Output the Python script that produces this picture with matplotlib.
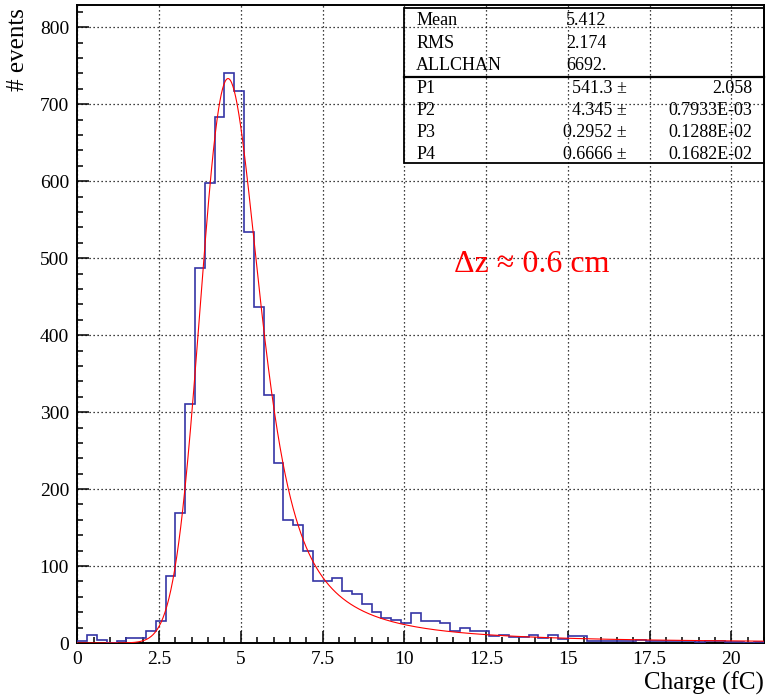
import numpy as np
import matplotlib
matplotlib.use("Agg")
import matplotlib.pyplot as plt
from matplotlib.patches import Rectangle
from matplotlib.ticker import MultipleLocator

plt.rcParams['font.family'] = ['Liberation Serif', 'DejaVu Serif']

# histogram: 70 bins of 0.3 fC from 0 to 21
bin_lo, bin_hi, n_bins = 0.0, 21.0, 70
counts = [2, 11, 4, 0, 3, 7, 7, 16, 29, 87,
          169, 310, 487, 598, 683, 741, 717, 534, 436, 322,
          234, 160, 153, 119, 81, 81, 85, 68, 64, 51,
          40, 32, 30, 26, 39, 28, 28, 26, 16, 20,
          16, 15, 9, 11, 8, 8, 10, 7, 11, 5,
          9, 9, 2, 2, 3, 3, 2, 4, 3, 2,
          3, 2, 2, 1, 2, 2, 1, 1, 0, 1]

# fit parameters shown in the stats box
P1, P2, P3, P4 = 541.3, 4.345, 0.2952, 0.6666
stat_names = ["Mean", "RMS", "ALLCHAN"]
stat_values = ["5.412", "2.174", "6692."]
par_names = ["P1", "P2", "P3", "P4"]
par_values = ["541.3", "4.345", "0.2952", "0.6666"]
par_errors = ["2.058", "0.7933E-03", "0.1288E-02", "0.1682E-02"]
n_entries = 6692


def denlan(v):
    # CERNLIB DENLAN rational approximation of the Landau density
    p1 = [0.4259894875, -0.1249762550, 0.03984243700, -0.006298287635, 0.001511162253]
    q1 = [1.0, -0.3388260629, 0.09594393323, -0.01608042283, 0.003778942063]
    p2 = [0.1788541609, 0.1173957403, 0.01488850518, -0.001394989411, 0.0001283617211]
    q2 = [1.0, 0.7428795082, 0.3153932961, 0.06694219548, 0.008790609714]
    p3 = [0.1788544503, 0.09359161662, 0.006325387654, 0.00006611667319, -0.000002031049101]
    q3 = [1.0, 0.6097809921, 0.2560616665, 0.04746722384, 0.006957301675]
    p4 = [0.9874054407, 118.6723273, 849.2794360, -743.7792444, 427.0262186]
    q4 = [1.0, 106.8615961, 337.6496214, 2016.712389, 1597.063511]
    p5 = [1.003675074, 167.5702434, 4789.711289, 21217.86767, -22324.94910]
    q5 = [1.0, 156.9424537, 3745.310488, 9834.698876, 66924.28357]
    p6 = [1.000827619, 664.9143136, 62972.92665, 475554.6998, -5743609.109]
    q6 = [1.0, 651.4101098, 56974.73333, 165917.4725, -2815759.939]
    a1 = [0.04166666667, -0.01996527778, 0.02709538966]
    a2 = [-1.845568670, -4.284640743]

    def poly(c, t):
        return c[0] + (c[1] + (c[2] + (c[3] + c[4] * t) * t) * t) * t

    v = np.asarray(v, dtype=float)
    out = np.zeros_like(v)
    with np.errstate(all='ignore'):
        m = v < -5.5
        u = np.exp(v[m] + 1.0)
        out[m] = 0.3989422803 * (np.exp(-1 / u) / np.sqrt(u)) * (1 + (a1[0] + (a1[1] + a1[2] * u) * u) * u)
        m = (v >= -5.5) & (v < -1)
        u = np.exp(-v[m] - 1)
        out[m] = np.exp(-u) * np.sqrt(u) * poly(p1, v[m]) / poly(q1, v[m])
        m = (v >= -1) & (v < 1)
        out[m] = poly(p2, v[m]) / poly(q2, v[m])
        m = (v >= 1) & (v < 5)
        out[m] = poly(p3, v[m]) / poly(q3, v[m])
        for lo, hi, p, q in [(5, 12, p4, q4), (12, 50, p5, q5), (50, 300, p6, q6)]:
            m = (v >= lo) & (v < hi)
            u = 1 / v[m]
            out[m] = u * u * poly(p, u) / poly(q, u)
        m = v >= 300
        u = 1 / (v[m] - v[m] * np.log(v[m]) / (v[m] + 1))
        out[m] = u * u * (1 + (a2[0] + a2[1] * u) * u)
    out[np.isnan(out)] = 0
    return out


edges = np.linspace(bin_lo, bin_hi, n_bins + 1)
bw = edges[1] - edges[0]

# Landau (MPV P2, width P3) convolved with Gaussian (sigma P4)
x_fit = np.linspace(bin_lo, bin_hi, 1051)
step = 0.005
xp = np.arange(-3, 40, step)
mpc = P2 + 0.22278298 * P3
land = denlan((xp - mpc) / P3) / P3
g = np.exp(-0.5 * ((x_fit[:, None] - xp[None, :]) / P4) ** 2) / (np.sqrt(2 * np.pi) * P4)
y_fit = (g @ land) * step * n_entries * bw

fig = plt.figure(figsize=(7.68, 6.95), dpi=100)
ax = fig.add_axes([0.1007, 0.0748, 0.8941, 0.9180])

ax.stairs(counts, edges, color='#3535a5', lw=1.2, zorder=3)
ax.plot(x_fit, y_fit, color='red', lw=0.8, zorder=4)

ax.set_xlim(bin_lo, bin_hi)
ax.set_ylim(0, 829)
ax.xaxis.set_major_locator(MultipleLocator(2.5))
ax.xaxis.set_minor_locator(MultipleLocator(0.5))
ax.yaxis.set_major_locator(MultipleLocator(100))
ax.yaxis.set_minor_locator(MultipleLocator(20))
ax.set_xticks([0, 2.5, 5, 7.5, 10, 12.5, 15, 17.5, 20])
ax.set_xticklabels(["0", "2.5", "5", "7.5", "10", "12.5", "15", "17.5", "20"])
ax.tick_params(which='both', direction='in', top=False, right=False, labelsize=14, width=1.1)
ax.tick_params(which='major', length=8.5, pad=6)
ax.tick_params(which='minor', length=4.2)
ax.grid(True, which='major', color='black', linestyle=(0, (1, 2.2)), lw=0.9)
for s in ax.spines.values():
    s.set_linewidth(1.4)

ax.set_xlabel("Charge (fC)", fontsize=18, loc='right')
ax.xaxis.set_label_coords(1.0, -0.063)
ax.xaxis.label.set_va('center')
ax.set_ylabel("# events", fontsize=18, loc='top')
ax.yaxis.set_label_coords(-0.086, 0.995)
ax.yaxis.label.set_va('center')

ax.text(13.9, 492, "Δz ≈ 0.6 cm", color='red', fontsize=23, ha='center', va='center')

# stats box (transparent, grid shows through)
bx0, bx1 = (404 - 77.3) / 686.7, 1.0
by0, by1 = (643 - 163) / 638, (643 - 8) / 638
ax.add_patch(Rectangle((bx0, by0), bx1 - bx0, by1 - by0, transform=ax.transAxes,
                       fill=False, lw=1.3, ec='black', clip_on=False, zorder=5))
sep = (643 - 77) / 638
ax.plot([bx0, bx1], [sep, sep], transform=ax.transAxes, color='black', lw=1.6,
        clip_on=False, zorder=5)


def fx(px):
    return (px - 77.3) / 686.7


def fy(py):
    return (643 - py) / 638


stat_rows = [20, 43, 65]
for name, val, py in zip(stat_names, stat_values, stat_rows):
    ax.text(fx(416), fy(py), name, transform=ax.transAxes, fontsize=13, va='center')
    ax.text(fx(566), fy(py), val, transform=ax.transAxes, fontsize=13, va='center')
par_rows = [88, 110, 132, 154]
for name, val, err, py in zip(par_names, par_values, par_errors, par_rows):
    ax.text(fx(416), fy(py), name, transform=ax.transAxes, fontsize=13, va='center')
    ax.text(fx(627), fy(py), val + " ±", transform=ax.transAxes, fontsize=13,
            va='center', ha='right')
    ax.text(fx(752), fy(py), err, transform=ax.transAxes, fontsize=13,
            va='center', ha='right')

fig.savefig("out.png", dpi=100)
